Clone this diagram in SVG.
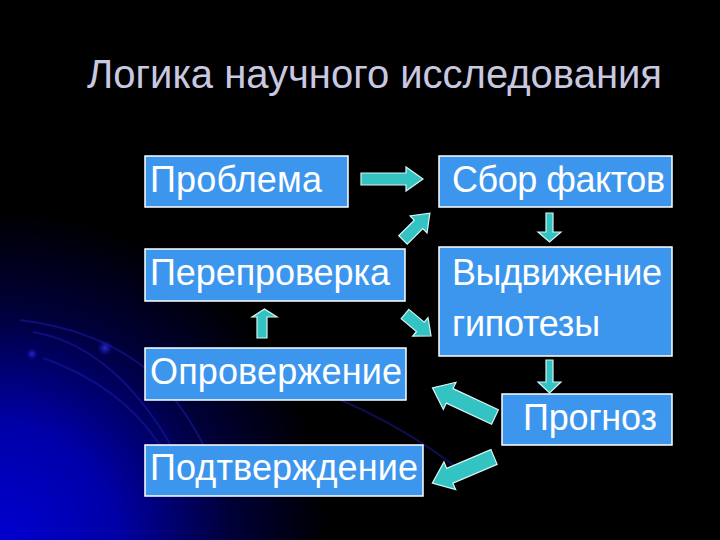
<svg xmlns="http://www.w3.org/2000/svg" width="720" height="540" viewBox="0 0 720 540">
<defs>
<radialGradient id="bg" cx="0" cy="540" r="330" gradientUnits="userSpaceOnUse">
<stop offset="0" stop-color="#0000d0"/>
<stop offset="0.35" stop-color="#0000a8"/>
<stop offset="0.7" stop-color="#000038"/>
<stop offset="1" stop-color="#000000"/>
</radialGradient>
<radialGradient id="dot">
<stop offset="0" stop-color="#2a2ad0"/>
<stop offset="1" stop-color="#1010a0" stop-opacity="0"/>
</radialGradient>
<style>
.box{fill:#3d96ee;stroke:#ffffff;stroke-width:1.5}
.lbl{font-family:"Liberation Sans",Arial,sans-serif;font-size:36px;fill:#ffffff}
.title{font-family:"Liberation Sans",Arial,sans-serif;font-size:40px;fill:#c8c8e0}
.arr{fill:#33c3c3;stroke:#d8f4f4;stroke-width:1.2;stroke-linejoin:miter}
.arc{fill:none;stroke:#1a1aa0;stroke-width:2;opacity:0.55}
</style>
</defs>
<rect width="720" height="540" fill="#000000"/>
<rect width="720" height="540" fill="url(#bg)"/>
<g id="decor">
<path class="arc" d="M20,320 Q100,330 150,372 Q190,410 215,470"/>
<path class="arc" d="M33,332 Q110,345 168,440 Q180,465 185,490"/>
<path class="arc" d="M43,358 Q120,385 160,445 Q170,465 172,480"/>
<path class="arc" d="M150,352 Q330,370 460,470" opacity="0.3"/>
<circle cx="32" cy="354" r="6" fill="url(#dot)"/>
<circle cx="105" cy="348" r="8" fill="url(#dot)"/>
</g>
<text class="title" x="87" y="88" textLength="575">Логика научного исследования</text>
<g id="connectors">
<path class="arr" d="M361,173 H406 V167 L423,179 L406,191 V185 H361 Z"/>
<path class="arr" transform="translate(403,240) rotate(-45)" d="M0,-6 H22 V-12 L38,0 L22,12 V6 H0 Z"/>
<path class="arr" d="M546,213 H553 V232 H561 L549.5,242 L538,232 H546 Z"/>
<path class="arr" transform="translate(405,314) rotate(40)" d="M0,-6 H20 V-12 L34,0 L20,12 V6 H0 Z"/>
<path class="arr" d="M257,338 V317 H252 L264.5,309 L277,317 H267 V338 Z"/>
<path class="arr" d="M546,360 H553 V382 H561 L549.5,393 L538,382 H546 Z"/>
<path class="arr" transform="translate(495,417) rotate(205)" d="M0,-8 H50 V-15 L69,0 L50,15 V8 H0 Z"/>
<path class="arr" transform="translate(494,457) rotate(157)" d="M0,-8 H48 V-15 L67,0 L48,15 V8 H0 Z"/>
</g>
<g id="n-problema"><rect class="box" x="145" y="156" width="203" height="51"/><text class="lbl" x="150" y="192" textLength="172">Проблема</text></g>
<g id="n-sbor"><rect class="box" x="439" y="156" width="233" height="51"/><text class="lbl" x="452" y="192" textLength="213">Сбор фактов</text></g>
<g id="n-pereproverka"><rect class="box" x="145" y="249" width="260" height="52"/><text class="lbl" x="150" y="285" textLength="240">Перепроверка</text></g>
<g id="n-vydvizhenie"><rect class="box" x="439" y="247" width="233" height="109"/><text class="lbl" x="452" y="285" textLength="210">Выдвижение</text><text class="lbl" x="452" y="336" textLength="148">гипотезы</text></g>
<g id="n-oproverzhenie"><rect class="box" x="145" y="348" width="261" height="52"/><text class="lbl" x="150" y="384" textLength="252">Опровержение</text></g>
<g id="n-prognoz"><rect class="box" x="502" y="394" width="170" height="51"/><text class="lbl" x="523" y="430" textLength="134">Прогноз</text></g>
<g id="n-podtverzhdenie"><rect class="box" x="145" y="445" width="278" height="51"/><text class="lbl" x="150" y="480" textLength="268">Подтверждение</text></g>
</svg>
